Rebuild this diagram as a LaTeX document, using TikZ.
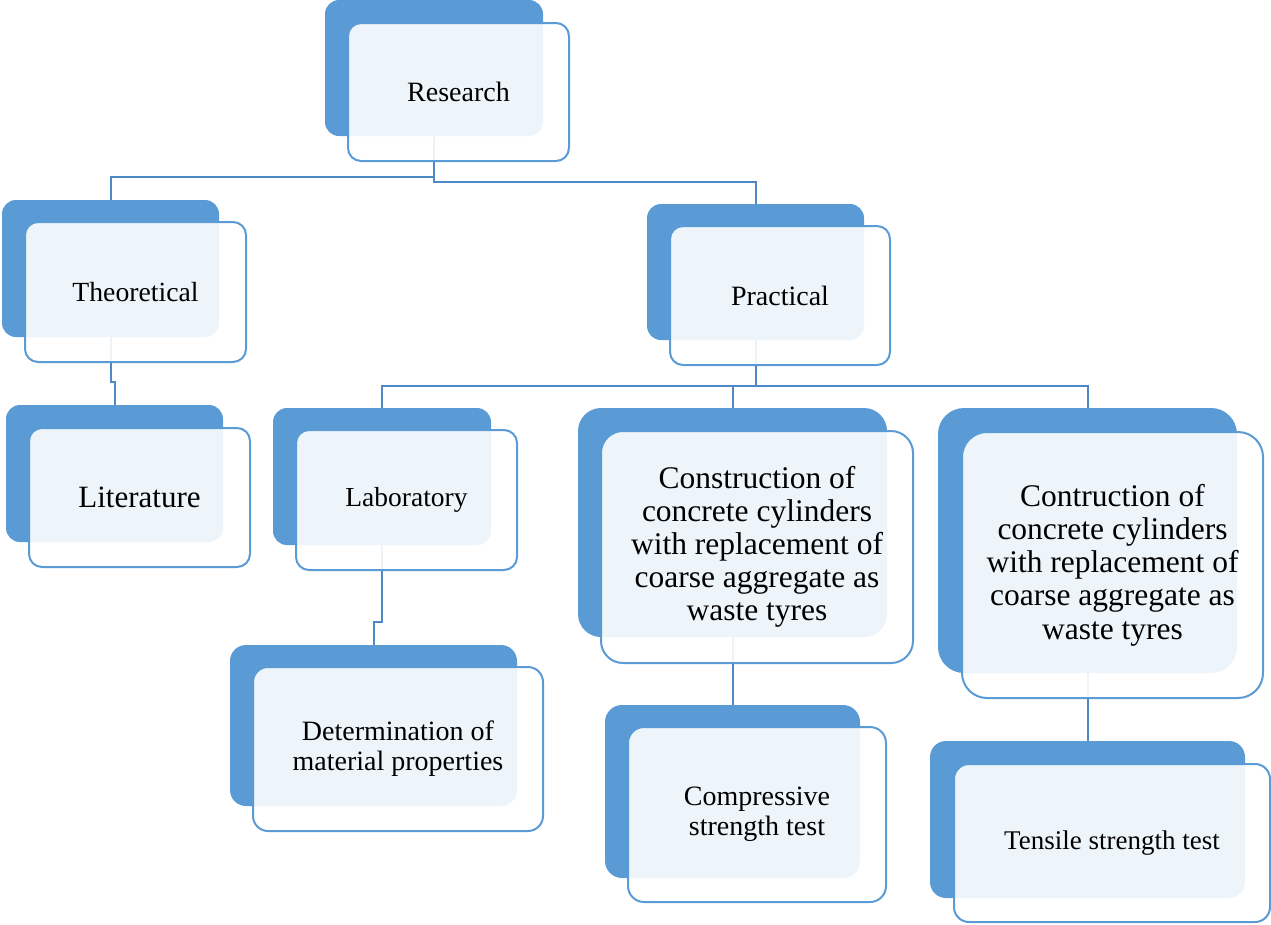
\documentclass[tikz,border=0pt]{standalone}
\usepackage{fontspec}
\setmainfont{Liberation Serif}
\pgfdeclarelayer{bg}
\pgfsetlayers{bg,main}
\definecolor{dkblue}{HTML}{5B9BD5}
\definecolor{lnblue}{HTML}{4F88C6}
\tikzset{
  backbox/.style={fill=dkblue, draw=none, inner sep=0pt, outer sep=0pt},
  frontbox/.style={fill=white, fill opacity=0.9, text opacity=1, draw=dkblue, draw opacity=1,
     line width=2pt, inner sep=0pt, outer sep=0pt, align=center, text=black},
  conn/.style={draw=lnblue, line width=2pt},
}
\newcommand{\fs}[2]{\fontsize{#1}{#2}\selectfont}
\begin{document}
\begin{tikzpicture}[x=1pt,y=-1pt]
\useasboundingbox (0,0) rectangle (1271,924);
% back boxes
\node[backbox, minimum width=218pt, minimum height=136pt, rounded corners=14pt] (rB) at (434,68) {};
\node[backbox, minimum width=217pt, minimum height=137pt, rounded corners=14pt] (tB) at (110.5,268.5) {};
\node[backbox, minimum width=217pt, minimum height=136pt, rounded corners=14pt] (pB) at (755.5,272) {};
\node[backbox, minimum width=217pt, minimum height=137pt, rounded corners=14pt] (lB) at (114.5,473.5) {};
\node[backbox, minimum width=218pt, minimum height=137pt, rounded corners=14pt] (labB) at (382,476.5) {};
\node[backbox, minimum width=309pt, minimum height=229pt, rounded corners=23pt] (c1B) at (732.5,522.5) {};
\node[backbox, minimum width=299pt, minimum height=265pt, rounded corners=26pt] (c2B) at (1087.5,540.5) {};
\node[backbox, minimum width=287pt, minimum height=161pt, rounded corners=16pt] (dB) at (373.5,725.5) {};
\node[backbox, minimum width=255pt, minimum height=173pt, rounded corners=17pt] (cmB) at (732.5,791.5) {};
\node[backbox, minimum width=315pt, minimum height=157pt, rounded corners=16pt] (tsB) at (1087.5,819.5) {};
% front boxes
\node[frontbox, minimum width=221pt, minimum height=138pt, rounded corners=13pt, font=\fs{28}{30}] (rF) at (458.5,92) {Research};
\node[frontbox, minimum width=221pt, minimum height=140pt, rounded corners=13pt, font=\fs{27.7}{30}] (tF) at (135.5,292) {Theoretical};
\node[frontbox, minimum width=220pt, minimum height=139pt, rounded corners=13pt, font=\fs{28}{30}] (pF) at (780,295.5) {Practical};
\node[frontbox, minimum width=221pt, minimum height=139pt, rounded corners=13pt, font=\fs{31}{33}] (lF) at (139.5,497.5) {Literature};
\node[frontbox, minimum width=221pt, minimum height=140pt, rounded corners=13pt, font=\fs{27.5}{30}] (labF) at (406.5,500) {Laboratory};
\node[frontbox, minimum width=312pt, minimum height=232pt, rounded corners=22pt, font=\fs{31.5}{33}] (c1F) at (757,547) {Construction of\\concrete cylinders\\with replacement of\\coarse aggregate as\\waste tyres};
\node[frontbox, minimum width=301pt, minimum height=266pt, rounded corners=25pt, font=\fs{31.5}{33.25}] (c2F) at (1112.5,565) {Contruction of\\concrete cylinders\\with replacement of\\coarse aggregate as\\waste tyres};
\node[frontbox, minimum width=290pt, minimum height=164pt, rounded corners=15pt, font=\fs{28}{30}] (dF) at (398,749) {Determination of\\material properties};
\node[frontbox, minimum width=258pt, minimum height=175pt, rounded corners=16pt, font=\fs{28}{30}] (cmF) at (757,814.5) {Compressive\\strength test};
\node[frontbox, minimum width=316pt, minimum height=158pt, rounded corners=15pt, font=\fs{27}{30}] (tsF) at (1112,843) {Tensile strength test};
% helper coordinates for connector levels
\coordinate (y177) at (0,177);
\coordinate (y182) at (0,182);
\coordinate (y382) at (0,382);
\coordinate (y386) at (0,386);
\coordinate (y622) at (0,622);
\begin{pgfonlayer}{bg}
\draw[conn] (tB.north) -- (tB.north |- y177) -- (rB.south |- y177);
\draw[conn] (rB.south) -- (rB.south |- y182) -- (pB.north |- y182) -- (pB.north);
\draw[conn] (tB.south) -- (tB.south |- y382) -- (lB.north |- y382) -- (lB.north);
\draw[conn] (pB.south) -- (pB.south |- y386);
\draw[conn] (labB.north) -- (labB.north |- y386) -- (c2B.north |- y386) -- (c2B.north);
\draw[conn] (c1B.north) -- (c1B.north |- y386);
\draw[conn] (labB.south) -- (labB.south |- y622) -- (dB.north |- y622) -- (dB.north);
\draw[conn] (c1B.south) -- (cmB.north);
\draw[conn] (c2B.south) -- (tsB.north);
\end{pgfonlayer}
\end{tikzpicture}
\end{document}
